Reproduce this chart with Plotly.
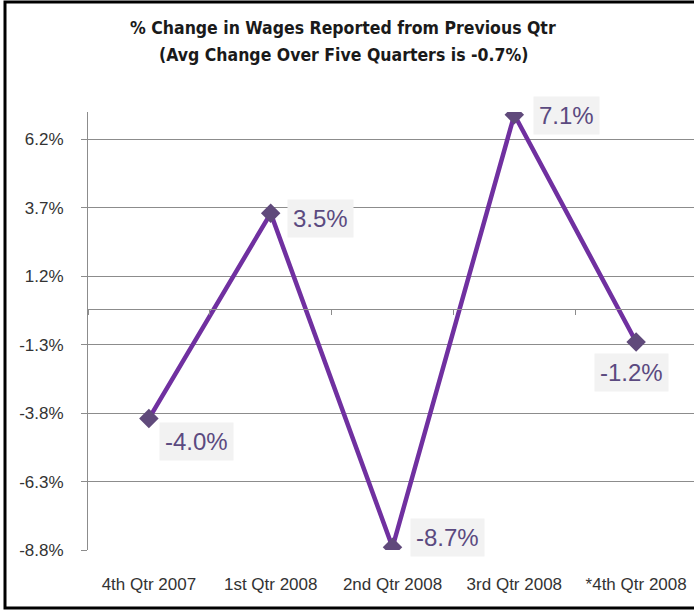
import plotly.graph_objects as go

categories = ["4th Qtr 2007", "1st Qtr 2008", "2nd Qtr 2008", "3rd Qtr 2008", "*4th Qtr 2008"]
values = [-4.0, 3.5, -8.7, 7.1, -1.2]
value_labels = ["-4.0%", "3.5%", "-8.7%", "7.1%", "-1.2%"]
y_ticks = [-8.8, -6.3, -3.8, -1.3, 1.2, 3.7, 6.2]
y_tick_labels = ["-8.8%", "-6.3%", "-3.8%", "-1.3%", "1.2%", "3.7%", "6.2%"]
title_lines = ["% Change in Wages Reported from Previous Qtr",
               "(Avg Change Over Five Quarters is -0.7%)"]

# label offsets (pixels) relative to each point
label_shift = [(48, -23), (50, -5), (55, 10), (52, -1), (-5, -31)]

W, H = 694, 614
ML, MR, MT, MB = 88, 0, 112, 64
y_range = [-8.8, 7.2]
x_range = [-0.5, 4.475]

GRID = "#8c8c8c"
LINE = "#7030a0"
MARK = "#604a7b"
TXT = "#5b4a80"

fig = go.Figure()
fig.add_trace(go.Scatter(
    x=categories, y=values, mode="lines+markers",
    line=dict(color=LINE, width=4.5),
    marker=dict(symbol="diamond", size=15, color=MARK),
    showlegend=False, hoverinfo="skip"))
# invisible trace that carries the zero-line axis
fig.add_trace(go.Scatter(
    x=categories, y=values, mode="lines", xaxis="x2",
    line=dict(color="rgba(0,0,0,0)", width=0),
    showlegend=False, hoverinfo="skip"))

for c, v, t, (dx, dy) in zip(categories, values, value_labels, label_shift):
    fig.add_annotation(x=c, y=v, text=t, showarrow=False,
                       xshift=dx, yshift=dy,
                       font=dict(family="Liberation Sans, Arial", size=24, color=TXT),
                       bgcolor="#f2f2f2", borderpad=5)

zero_pos = (0 - y_range[0]) / (y_range[1] - y_range[0])

pw, ph = W - ML - MR, H - MT - MB
def px(x):
    return (x - ML) / pw
def py(y):
    return (H - MB - y) / ph

for line, yc in zip(title_lines, [28, 55]):
    fig.add_annotation(xref="paper", yref="paper", x=px(343), y=py(yc),
                       xanchor="center", yanchor="middle", showarrow=False,
                       text=line,
                       font=dict(family="DejaVu Sans Condensed, Liberation Sans Narrow, Arial Narrow",
                                 size=17.5, color="#1a1a1a", weight="bold"))

fig.update_layout(
    width=W, height=H,
    margin=dict(l=ML, r=MR, t=MT, b=MB),
    paper_bgcolor="white", plot_bgcolor="white",
    xaxis=dict(type="category", categoryorder="array", categoryarray=categories,
               range=x_range, showgrid=False, showline=False, zeroline=False,
               ticks="", ticklabelstandoff=22, automargin=False,
               tickfont=dict(family="Liberation Sans, Arial", size=17, color="#333333")),
    xaxis2=dict(type="category", categoryorder="array", categoryarray=categories,
                range=x_range, overlaying="x", anchor="free", position=zero_pos,
                side="bottom", showline=True, linecolor=GRID, linewidth=1,
                ticks="outside", ticklen=5, tickcolor=GRID, tickwidth=1,
                tickson="boundaries", showticklabels=False, showgrid=False, zeroline=False),
    yaxis=dict(range=y_range, tickmode="array", tickvals=y_ticks, ticktext=y_tick_labels,
               showgrid=True, gridcolor=GRID, gridwidth=1,
               showline=True, linecolor=GRID, linewidth=1,
               ticks="outside", ticklen=6, tickcolor=GRID, zeroline=False,
               ticklabelstandoff=14, automargin=False,
               tickfont=dict(family="Liberation Sans, Arial", size=17, color="#333333")),
)

# chart frame
fig.add_shape(type="rect", xref="paper", yref="paper",
              x0=px(5), x1=px(W + 10), y0=py(608), y1=py(2),
              line=dict(color="black", width=3), layer="above")

fig.write_html("out.html",
               config={"displayModeBar": False},
               post_script="document.body.style.margin='0';document.body.style.overflow='hidden';")
